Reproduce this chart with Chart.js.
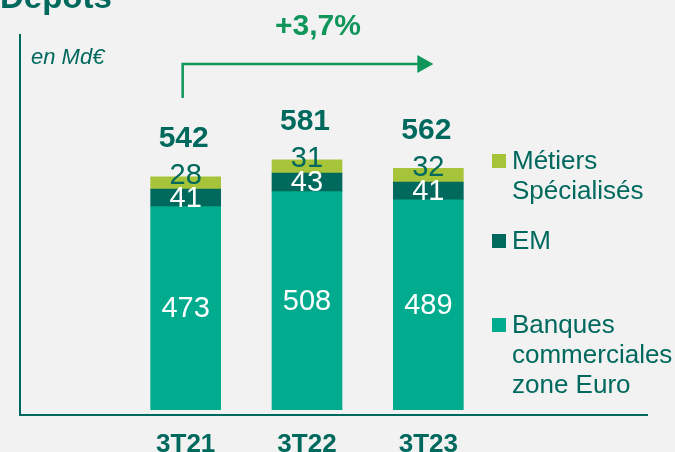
<!DOCTYPE html>
<html>
<head>
<meta charset="utf-8">
<script src="https://cdn.jsdelivr.net/npm/chart.js@4.4.0/dist/chart.umd.min.js"></script>
<style>
  html, body { margin: 0; padding: 0; background: #f2f2f2; }
  #wrap { width: 675px; height: 452px; }
</style>
</head>
<body>
<div id="wrap"><canvas id="depots" width="675" height="452"></canvas></div>
<script>
/*** data */
const periods = ['3T21', '3T22', '3T23'];
const banques = [473, 508, 489];
const em = [41, 43, 41];
const metiers = [28, 31, 32];
const totals = ['542', '581', '562'];
const growth = '+3,7%';

const DARK = '#00695e';
const FONT = "'Liberation Sans', Arial, sans-serif";

/*** decorations : title, axis lines, arrow, legend */
const decor = {
  id: 'decor',
  beforeDraw(chart) {
    const c = chart.ctx;
    c.save();
    c.fillStyle = '#f2f2f2';
    c.fillRect(0, 0, chart.width, chart.height);
    c.restore();
  },
  afterDraw(chart) {
    const c = chart.ctx;
    c.save();
    // title
    c.fillStyle = DARK;
    c.font = 'bold 33px ' + FONT;
    c.textAlign = 'left';
    c.textBaseline = 'alphabetic';
    c.fillText('Dépôts', 0, 8);
    c.font = 'italic 22px ' + FONT;
    c.textBaseline = 'middle';
    c.fillText('en Md€', 31, 58);

    // axis lines
    c.strokeStyle = DARK;
    c.lineWidth = 2;
    c.beginPath();
    c.moveTo(20, 34);
    c.lineTo(20, 415);
    c.lineTo(648, 415);
    c.stroke();

    // growth arrow
    const x0 = chart.scales.x.getPixelForValue(0) - 3;
    const x2 = chart.scales.x.getPixelForValue(2) + 5;
    c.strokeStyle = '#10955a';
    c.fillStyle = '#10955a';
    c.lineWidth = 2.5;
    c.beginPath();
    c.moveTo(x0, 98);
    c.lineTo(x0, 64);
    c.lineTo(x2 - 14, 64);
    c.stroke();
    c.beginPath();
    c.moveTo(x2 - 16, 55);
    c.lineTo(x2, 64);
    c.lineTo(x2 - 16, 73);
    c.closePath();
    c.fill();
    c.font = 'bold 30px ' + FONT;
    c.textAlign = 'center';
    c.fillText(growth, 318, 27);

    // legend
    const items = [
      { color: '#a6c439', lines: ['Métiers', 'Spécialisés'], y: 154 },
      { color: DARK, lines: ['EM'], y: 234 },
      { color: '#00ab8e', lines: ['Banques', 'commerciales', 'zone Euro'], y: 318 }
    ];
    c.font = '26px ' + FONT;
    c.textAlign = 'left';
    items.forEach(it => {
      c.fillStyle = it.color;
      c.fillRect(492, it.y, 14, 14);
      c.fillStyle = DARK;
      it.lines.forEach((l, i) => c.fillText(l, 512, it.y + 8 + i * 30));
    });
    c.restore();
  }
};

/*** value labels */
const valueLabels = {
  id: 'valueLabels',
  afterDatasetsDraw(chart) {
    const c = chart.ctx;
    c.save();
    c.textAlign = 'center';
    c.textBaseline = 'middle';
    chart.data.datasets.forEach((ds, di) => {
      const meta = chart.getDatasetMeta(di);
      meta.data.forEach((bar, i) => {
        const mid = (bar.y + bar.base) / 2;
        c.font = '29px ' + FONT;
        if (di === 2) {
          c.fillStyle = DARK;
          c.fillText(ds.data[i], bar.x, mid - 7);
        } else {
          c.fillStyle = '#ffffff';
          c.fillText(ds.data[i], bar.x, mid + 1);
        }
      });
    });
    const top = chart.getDatasetMeta(2).data;
    c.font = 'bold 30px ' + FONT;
    c.fillStyle = DARK;
    top.forEach((bar, i) => {
      c.fillText(totals[i], bar.x - 2, bar.y - 38);
    });
    c.restore();
  }
};

const ctx = document.getElementById('depots').getContext('2d');
const chart = new Chart(ctx, {
  type: 'bar',
  data: {
    labels: periods,
    datasets: [
      { label: 'Banques commerciales zone Euro', data: banques, backgroundColor: '#00ab8e' },
      { label: 'EM', data: em, backgroundColor: DARK },
      { label: 'Métiers Spécialisés', data: metiers, backgroundColor: '#a6c439' }
    ]
  },
  options: {
    responsive: false,
    animation: false,
    layout: { padding: { left: 125, right: 186, top: 109, bottom: 0 } },
    datasets: { bar: { barThickness: 70 } },
    plugins: {
      legend: { display: false },
      tooltip: { enabled: false }
    },
    scales: {
      x: {
        stacked: true,
        grid: { display: false, drawTicks: false },
        border: { display: false },
        ticks: {
          color: DARK,
          padding: 19,
          font: { family: FONT, size: 26, weight: 'bold' }
        },
        afterFit(s) { s.height = 42; }
      },
      y: {
        stacked: true,
        display: false,
        min: 0,
        max: 700
      }
    }
  },
  plugins: [decor, valueLabels]
});
</script>
</body>
</html>
